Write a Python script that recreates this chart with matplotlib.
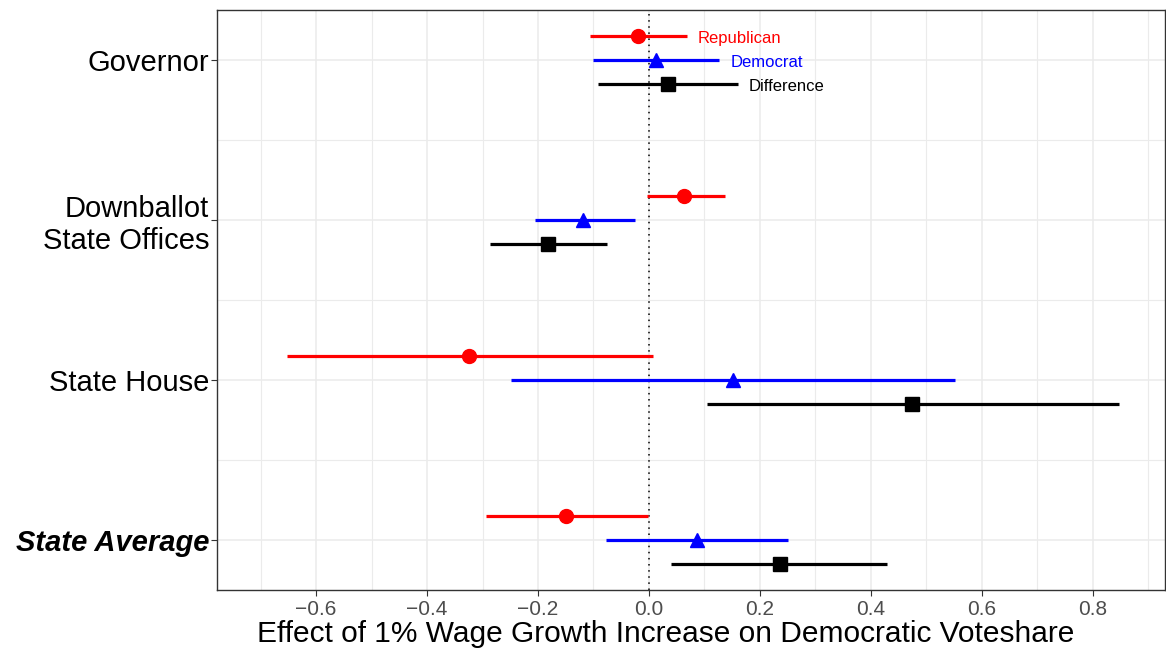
import numpy as np
import matplotlib.pyplot as plt

plt.rcParams['font.family'] = ['Liberation Sans', 'DejaVu Sans']

# offices, bottom to top
offices = ['State Average', 'State House', 'Downballot\nState Offices', 'Governor']

# point estimates and 95% intervals, same order as offices
rep_est = [-0.150, -0.324, 0.064, -0.020]
rep_lo = [-0.294, -0.652, -0.004, -0.107]
rep_hi = [-0.002, 0.007, 0.138, 0.068]

dem_est = [0.086, 0.151, -0.118, 0.012]
dem_lo = [-0.078, -0.249, -0.206, -0.101]
dem_hi = [0.251, 0.552, -0.026, 0.127]

diff_est = [0.237, 0.474, -0.182, 0.034]
diff_lo = [0.040, 0.104, -0.287, -0.092]
diff_hi = [0.430, 0.848, -0.076, 0.160]

series = [
    ('Republican', rep_est, rep_lo, rep_hi, '#FF0000', 'o', 10, 0.15),
    ('Democrat', dem_est, dem_lo, dem_hi, '#0000FF', '^', 10.5, 0.0),
    ('Difference', diff_est, diff_lo, diff_hi, '#000000', 's', 9.5, -0.15),
]

fig = plt.figure(figsize=(11.66, 6.52), dpi=100)
ax = fig.add_axes([0.1864, 0.095, 0.8126, 0.8895])

ypos = np.arange(1, len(offices) + 1)

for name, est, lo, hi, col, mk, ms, off in series:
    y = ypos + off
    ax.hlines(y, lo, hi, color=col, lw=2.3, zorder=3)
    ax.plot(est, y, mk, color=col, ms=ms, zorder=4, linestyle='none')
    # label the governor row
    ax.text(hi[-1] + 0.02, y[-1] - 0.012, name, color=col, fontsize=12,
            ha='left', va='center')

ax.axvline(0, color='black', lw=1.1, linestyle=(0, (1, 3)), zorder=2)

ax.set_xlim(-0.778, 0.930)
ax.set_ylim(0.6875, 4.3125)
ax.set_xticks(np.arange(-0.6, 0.81, 0.2))
ax.set_xticklabels(['\u22120.6', '\u22120.4', '\u22120.2', '0.0', '0.2', '0.4', '0.6', '0.8'])
ax.set_xticks(np.arange(-0.7, 0.91, 0.1), minor=True)
ax.set_yticks(ypos)
ax.set_yticklabels(offices)
ax.set_yticks(ypos[:-1] + 0.5, minor=True)

ax.grid(True, which='major', color='#EBEBEB', lw=1.1, zorder=0)
ax.grid(True, which='minor', color='#EBEBEB', lw=0.8, zorder=0)
ax.set_axisbelow(True)

ax.tick_params(axis='x', which='major', labelsize=15, labelcolor='#4D4D4D',
               color='#333333', length=4, pad=3)
ax.tick_params(axis='y', which='major', labelsize=21, labelcolor='black',
               color='#333333', length=4, pad=2)
ax.tick_params(which='minor', length=0)

for lab in ax.get_yticklabels():
    if lab.get_text() == 'State Average':
        lab.set_fontweight('bold')
        lab.set_fontstyle('italic')

for sp in ax.spines.values():
    sp.set_color('#333333')
    sp.set_linewidth(1.0)

ax.set_xlabel('Effect of 1% Wage Growth Increase on Democratic Voteshare',
              fontsize=21.5, labelpad=1)
ax.xaxis.set_label_coords(0.4735, -0.052)
ax.xaxis.label.set_va('top')

fig.savefig('out.png', dpi=100)
